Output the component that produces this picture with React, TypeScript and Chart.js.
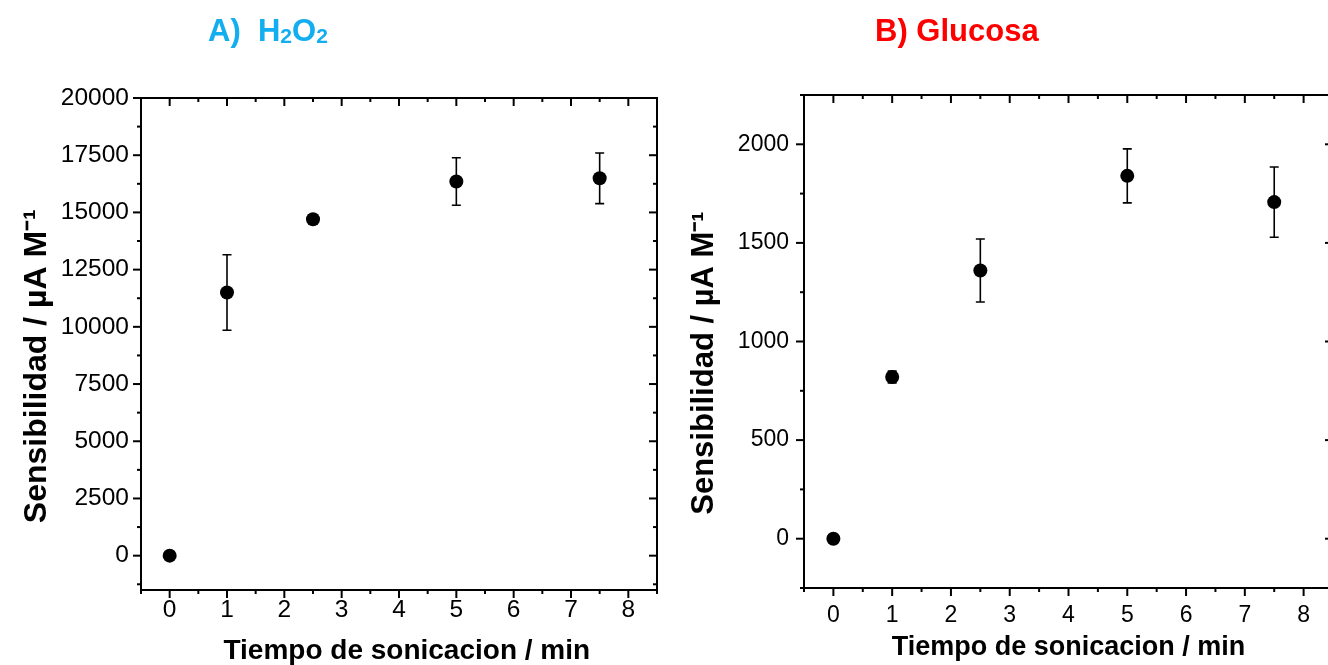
import React, { useEffect, useRef } from "react";
import { Chart, registerables } from "chart.js";

Chart.register(...registerables);

// ---- data ----
const sonicationTimes = [0, 1, 2.5, 5, 7.5];
const h2o2Sensitivity = [0, 11500, 14700, 16350, 16490];
const h2o2Error = [0, 1650, 200, 1040, 1105];
const glucoseSensitivity = [0, 820, 1360, 1840, 1707];
const glucoseError = [0, 30, 160, 137, 178];

const xTickLabels = ["0", "1", "2", "3", "4", "5", "6", "7", "8"];
const h2o2TickLabels = ["0", "2500", "5000", "7500", "10000", "12500", "15000", "17500", "20000"];
const glucoseTickLabels = ["0", "500", "1000", "1500", "2000"];

const X_TITLE = "Tiempo de sonicacion / min";
const Y_TITLE = "Sensibilidad / µA M⁻¹";

const FONT = "'Liberation Sans', Arial, Helvetica, sans-serif";

type Seg = { text: string; sub?: boolean };

const titleA: Seg[] = [{ text: "A)  H" }, { text: "2", sub: true }, { text: "O" }, { text: "2", sub: true }];
const titleB: Seg[] = [{ text: "B) Glucosa" }];

const framePlugin = {
  id: "originFrame",
  beforeDatasetsDraw(chart: any, _args: any, opts: any) {
    const { ctx } = chart;
    const x = chart.scales.x;
    const y = chart.scales.y;
    const errs: number[] = opts.errors || [];
    const pts = chart.data.datasets[0].data as { x: number; y: number }[];
    ctx.save();
    ctx.strokeStyle = "#000";
    ctx.lineWidth = 1.6;
    pts.forEach((p, i) => {
      const e = errs[i];
      if (!e) return;
      const px = x.getPixelForValue(p.x);
      const t = y.getPixelForValue(p.y + e);
      const b = y.getPixelForValue(p.y - e);
      ctx.beginPath();
      ctx.moveTo(px, t);
      ctx.lineTo(px, b);
      ctx.moveTo(px - 4.5, t);
      ctx.lineTo(px + 4.5, t);
      ctx.moveTo(px - 4.5, b);
      ctx.lineTo(px + 4.5, b);
      ctx.stroke();
    });
    ctx.restore();
  },
  afterDraw(chart: any, _args: any, opts: any) {
    const { ctx, chartArea } = chart;
    const { left, right, top, bottom } = chartArea;
    const x = chart.scales.x;
    const y = chart.scales.y;
    ctx.save();
    ctx.strokeStyle = "#000";
    ctx.lineWidth = 2;
    ctx.beginPath();
    ctx.rect(left, top, right - left, bottom - top);
    ctx.stroke();

    const line = (x1: number, y1: number, x2: number, y2: number) => {
      ctx.beginPath();
      ctx.moveTo(x1, y1);
      ctx.lineTo(x2, y2);
      ctx.stroke();
    };
    const MAJ = 8;
    const MIN = 4;
    const xs = opts.xMinor;
    for (let v = Math.ceil(x.min / xs - 1e-9) * xs; v <= x.max + 1e-9; v += xs) {
      const major = Math.abs(v / opts.xMajor - Math.round(v / opts.xMajor)) < 1e-6;
      const len = major ? MAJ : MIN;
      const px = x.getPixelForValue(v);
      line(px, bottom, px, bottom + len);
      line(px, top, px, top + len);
    }
    const ys = opts.yMinor;
    for (let v = Math.ceil(y.min / ys - 1e-9) * ys; v <= y.max + 1e-9; v += ys) {
      const major = Math.abs(v / opts.yMajor - Math.round(v / opts.yMajor)) < 1e-6;
      const len = major ? MAJ : MIN;
      const py = y.getPixelForValue(v);
      line(left, py, left - len, py);
      line(right, py, right - len, py);
    }

    // chart title with subscripts
    const segs: Seg[] = opts.title;
    let cx = opts.titleX;
    const base = opts.titleY;
    ctx.fillStyle = opts.titleColor;
    ctx.textBaseline = "alphabetic";
    ctx.textAlign = "left";
    segs.forEach((s) => {
      const size = s.sub ? opts.titleSize * 0.68 : opts.titleSize;
      ctx.font = `bold ${size}px ${FONT}`;
      ctx.fillText(s.text, cx, s.sub ? base + 2 : base);
      cx += ctx.measureText(s.text).width;
    });
    ctx.restore();
  },
};

type PanelCfg = {
  left: number;
  width: number;
  padding: { left: number; right: number; top: number; bottom: number };
  yWidth: number;
  xHeight: number;
  values: number[];
  errors: number[];
  yMin: number;
  yMax: number;
  yMajor: number;
  yMinor: number;
  yLabels: string[];
  tickSize: number;
  xTitleSize: number;
  yTitleSize: number;
  yTitlePad: number;
  yLabelPad: number;
  xLabelPad: number;
  xTitlePad: number;
  xTitleLead: string;
  title: Seg[];
  titleColor: string;
  titleX: number;
  titleY: number;
  titleSize: number;
};

function Panel({ cfg }: { cfg: PanelCfg }) {
  const ref = useRef<HTMLCanvasElement>(null);
  useEffect(() => {
    if (!ref.current) return;
    const data = sonicationTimes.map((t, i) => ({ x: t, y: cfg.values[i] }));
    const chart = new Chart(ref.current, {
      type: "scatter",
      data: {
        datasets: [
          {
            data,
            pointRadius: 7,
            pointHoverRadius: 7,
            pointBackgroundColor: "#000",
            pointBorderColor: "#000",
            pointBorderWidth: 0,
            showLine: false,
          },
        ],
      },
      plugins: [framePlugin],
      options: {
        responsive: false,
        animation: false,
        devicePixelRatio: 1,
        layout: { padding: cfg.padding },
        plugins: {
          legend: { display: false },
          tooltip: { enabled: false },
          title: { display: false },
          originFrame: {
            errors: cfg.errors,
            xMajor: 1,
            xMinor: 0.5,
            yMajor: cfg.yMajor,
            yMinor: cfg.yMinor,
            title: cfg.title,
            titleColor: cfg.titleColor,
            titleX: cfg.titleX,
            titleY: cfg.titleY,
            titleSize: cfg.titleSize,
          },
        } as any,
        scales: {
          x: {
            type: "linear",
            min: -0.5,
            max: 8.5,
            grid: { display: false, drawTicks: false },
            border: { display: false },
            afterBuildTicks: (axis: any) => {
              axis.ticks = xTickLabels.map((l) => ({ value: Number(l) }));
            },
            ticks: {
              autoSkip: false,
              maxRotation: 0,
              padding: cfg.xLabelPad,
              color: "#000",
              font: { family: FONT, size: cfg.tickSize },
              callback: (_v: any, i: number) => xTickLabels[i],
            },
            title: {
              display: true,
              text: cfg.xTitleLead + X_TITLE,
              color: "#000",
              font: { family: FONT, size: cfg.xTitleSize, weight: "bold" },
              padding: { top: 0, bottom: cfg.xTitlePad },
            },
            afterFit: (s: any) => {
              s.height = cfg.xHeight;
            },
          },
          y: {
            type: "linear",
            min: cfg.yMin,
            max: cfg.yMax,
            grid: { display: false, drawTicks: false },
            border: { display: false },
            afterBuildTicks: (axis: any) => {
              axis.ticks = cfg.yLabels.map((l) => ({ value: Number(l) }));
            },
            ticks: {
              autoSkip: false,
              padding: cfg.yLabelPad,
              color: "#000",
              font: { family: FONT, size: cfg.tickSize },
              callback: (_v: any, i: number) => cfg.yLabels[i],
            },
            title: {
              display: true,
              text: Y_TITLE + "     ",
              color: "#000",
              font: { family: FONT, size: cfg.yTitleSize, weight: "bold" },
              padding: { top: cfg.yTitlePad, bottom: 0 },
            },
            afterFit: (s: any) => {
              s.width = cfg.yWidth;
            },
          },
        },
      } as any,
    });
    return () => chart.destroy();
  }, []);
  return (
    <canvas
      ref={ref}
      width={cfg.width}
      height={665}
      style={{ position: "absolute", left: cfg.left, top: 0, width: cfg.width, height: 665, display: "block" }}
    />
  );
}

const panelA: PanelCfg = {
  left: 0,
  width: 664,
  padding: { left: 0, right: 3, top: 98, bottom: 0 },
  yWidth: 141,
  xHeight: 75,
  values: h2o2Sensitivity,
  errors: h2o2Error,
  yMin: -1500,
  yMax: 20000,
  yMajor: 2500,
  yMinor: 1250,
  yLabels: h2o2TickLabels,
  tickSize: 24.5,
  xTitleSize: 28,
  yTitleSize: 32,
  yTitlePad: 18,
  yLabelPad: 12,
  xLabelPad: 6,
  xTitlePad: -3,
  xTitleLead: "  ",
  title: titleA,
  titleColor: "#12AEEF",
  titleX: 208,
  titleY: 41,
  titleSize: 31,
};

const panelB: PanelCfg = {
  left: 664,
  width: 680,
  padding: { left: 0, right: 11, top: 95, bottom: 0 },
  yWidth: 140,
  xHeight: 77,
  values: glucoseSensitivity,
  errors: glucoseError,
  yMin: -250,
  yMax: 2250,
  yMajor: 500,
  yMinor: 250,
  yLabels: glucoseTickLabels,
  tickSize: 23,
  xTitleSize: 27,
  yTitleSize: 31,
  yTitlePad: 21.5,
  yLabelPad: 15,
  xLabelPad: 14,
  xTitlePad: 1,
  xTitleLead: "",
  title: titleB,
  titleColor: "#FF0000",
  titleX: 211,
  titleY: 41,
  titleSize: 31,
};

export default function App() {
  return (
    <div
      style={{
        position: "fixed",
        left: 0,
        top: 0,
        width: 1328,
        height: 665,
        overflow: "hidden",
        background: "#fff",
      }}
    >
      <Panel cfg={panelA} />
      <Panel cfg={panelB} />
    </div>
  );
}
